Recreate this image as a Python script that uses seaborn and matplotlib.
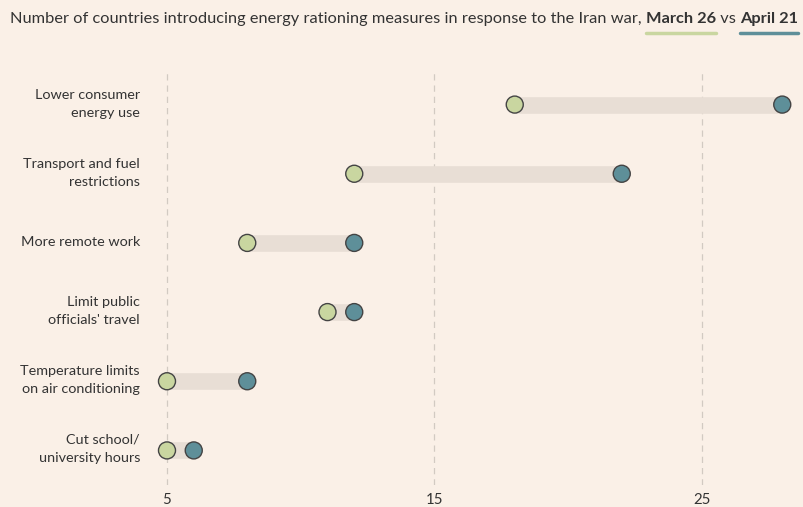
import numpy as np
import matplotlib.pyplot as plt
import pandas as pd
import seaborn as sns

# data
measures = ['Lower consumer\nenergy use',
            'Transport and fuel\nrestrictions',
            'More remote work',
            "Limit public\nofficials' travel",
            'Temperature limits\non air conditioning',
            'Cut school/\nuniversity hours']
march_26 = [18, 12, 8, 11, 5, 5]
april_21 = [28, 22, 12, 12, 8, 6]
x_ticks = [5, 15, 25]

bg = '#FAF0E7'
green = '#C9D6A0'
blue = '#5E8F99'
bar_col = '#E8DED5'

sns.set_style('white')
plt.rcParams['font.family'] = ['Lato', 'DejaVu Sans']

df = pd.DataFrame({'measure': measures * 2,
                   'row': list(range(len(measures))) * 2,
                   'count': march_26 + april_21,
                   'date': ['March 26'] * len(measures) + ['April 21'] * len(measures)})

fig = plt.figure(figsize=(8.04, 5.07), dpi=100, facecolor=bg)
W, H = 804, 507
ax = fig.add_axes([150 / W, 1 - 485 / H, (800 - 150) / W, (485 - 70) / H])
ax.set_facecolor(bg)

# connecting bars
ax.hlines(range(len(measures)), march_26, april_21, color=bar_col, lw=12, zorder=1)

sns.scatterplot(data=df, x='count', y='row', hue='date',
                palette={'March 26': green, 'April 21': blue},
                s=150, edgecolor='#444444', linewidth=1.0, legend=False, ax=ax, zorder=3)

px = 26.75
ax.set_xlim(5 - (167 - 150) / px, 5 + (800 - 167) / px)
ax.set_ylim(5.5, -0.5)
ax.set_xticks(x_ticks)
ax.set_xticklabels([str(t) for t in x_ticks], fontsize=10.8, color='#333333')
ax.set_yticks([])
for t in x_ticks:
    ax.axvline(t, color='#D2CAC2', lw=0.9, ls=(0, (5, 4)), zorder=0)
ax.tick_params(axis='x', length=0, pad=6)
for s in ax.spines.values():
    s.set_visible(False)
ax.set_xlabel('')
ax.set_ylabel('')

# category labels
for i, m in enumerate(measures):
    fig.text(140 / W, 1 - (104 + 69 * i) / H, m, ha='right', va='center',
             fontsize=10.4, color='#333333', linespacing=1.6)

# title with coloured underlined dates
fig.canvas.draw()
r = fig.canvas.get_renderer()
x0 = 10 / W
y0 = 1 - 19 / H
parts = [('Number of countries introducing energy rationing measures in response to the Iran war, ', 'normal', None),
         ('March 26', 'bold', green),
         (' vs ', 'normal', None),
         ('April 21', 'bold', blue)]
for txt, wt, ul in parts:
    t = fig.text(x0, y0, txt, ha='left', va='center', fontsize=11.8,
                 color='#333333', fontweight=wt)
    bb = t.get_window_extent(renderer=r)
    w = bb.width / W
    if ul is not None:
        fig.add_artist(plt.Line2D([x0, x0 + w], [1 - 33 / H, 1 - 33 / H],
                                  color=ul, lw=2.5, transform=fig.transFigure))
    x0 += w

fig.savefig('out.png', dpi=100, facecolor=bg)
